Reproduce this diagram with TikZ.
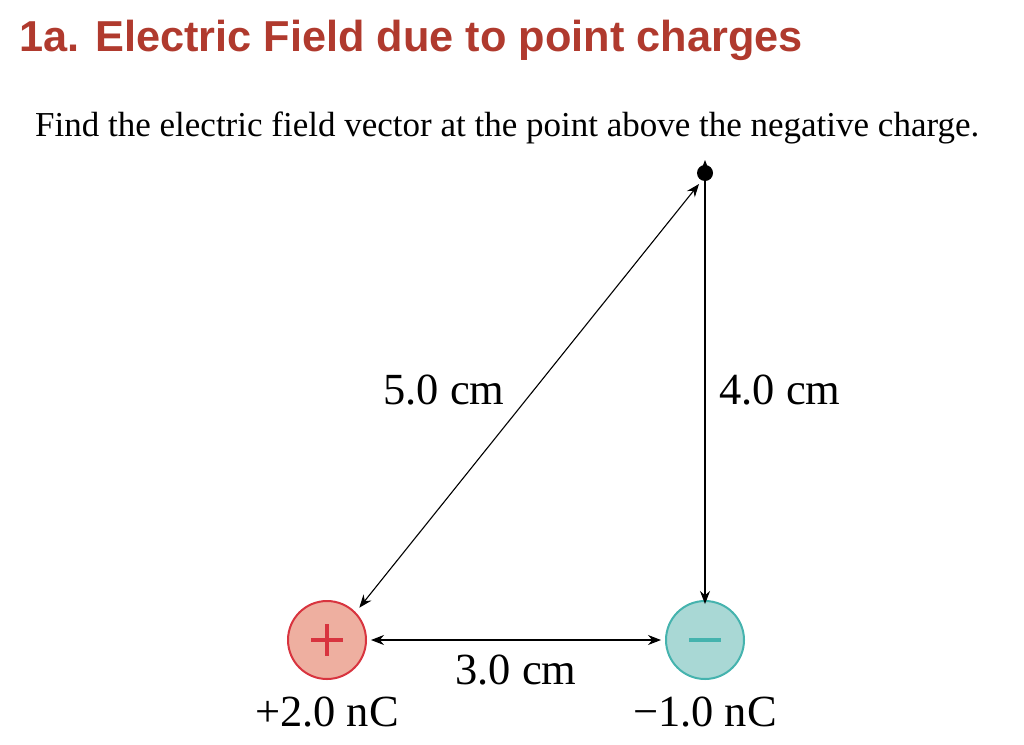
\documentclass[tikz,border=0pt]{standalone}
\usepackage{fontspec}
\setmainfont{Liberation Serif}
\newfontfamily\titlefont{Liberation Sans}
\definecolor{titlered}{HTML}{B03A2E}
\definecolor{posfill}{HTML}{EEAFA0}
\definecolor{posline}{HTML}{D8343F}
\definecolor{negfill}{HTML}{A9D8D5}
\definecolor{negline}{HTML}{45B3AE}
\usetikzlibrary{arrows.meta}
\begin{document}
\begin{tikzpicture}[x=1pt,y=-1pt,
  lbl/.style={font=\fontsize{44.5}{48}\selectfont, inner sep=0pt},
  dim/.style={{Stealth[length=13pt,width=10pt]}-{Stealth[length=13pt,width=10pt]}, line width=1.1pt}]
\useasboundingbox (0,0) rectangle (1024,744);
\node[anchor=base west, inner sep=0pt, text=titlered, font=\titlefont\bfseries\fontsize{43.3}{48}\selectfont] (title) at (19,51) {1a. Electric Field due to point charges};
\node[anchor=base west, inner sep=0pt, font=\fontsize{35}{38}\selectfont] (sub) at (35,136) {Find the electric field vector at the point above the negative charge.};
\fill (705,173) circle (8);
\coordinate (P) at (705,173);
\node[circle, minimum size=78pt, fill=posfill, draw=posline, line width=2pt, inner sep=0pt] (pos) at (327,640) {};
\node[circle, minimum size=78pt, fill=negfill, draw=negline, line width=2pt, inner sep=0pt] (neg) at (705,640) {};
\draw[posline, line width=4pt] (327,624) -- (327,656) (311,640) -- (343,640);
\draw[negline, line width=4pt] (689,640) -- (721,640);
\draw[dim] (pos.45) ++(4,-4) coordinate (a1) -- ([shift={(-6,11)}]P);
\draw[dim] ([yshift=13]P) -- ([yshift=-4]neg.north);
\draw[dim] ([xshift=4]pos.east) -- ([xshift=-4]neg.west);
\node[lbl] (l5) at (444,390) {5.0 cm};
\node[lbl] (l4) at (780,390) {4.0 cm};
\node[lbl] (l3) at (516,670) {3.0 cm};
\node[lbl] (q1) at (327,712) {+2.0 nC};
\node[lbl] (q2) at (705,712) {−1.0 nC};
\end{tikzpicture}
\end{document}
